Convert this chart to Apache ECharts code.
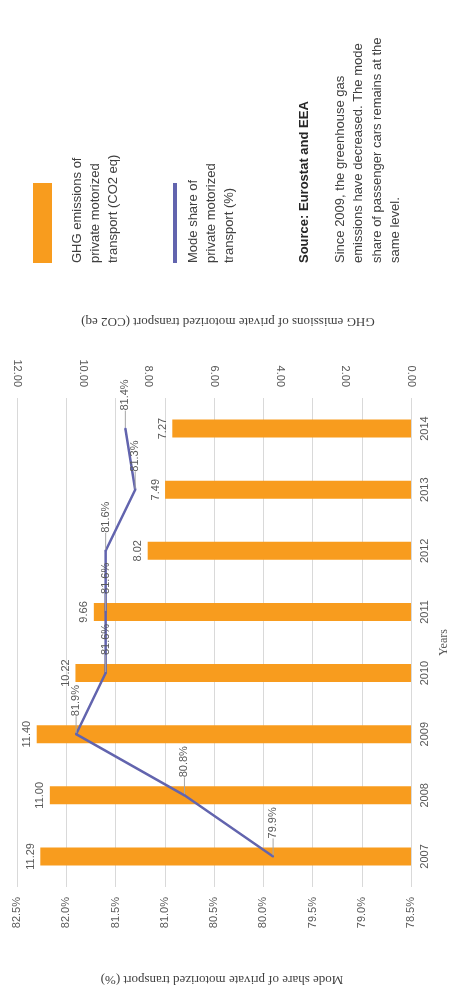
<!DOCTYPE html>
<html>
<head>
<meta charset="utf-8">
<script src="https://cdn.jsdelivr.net/npm/echarts@6/dist/echarts.min.js"></script>
<style>
html,body{margin:0;padding:0;background:#fff;overflow:hidden;width:449px;height:995px;}
#chart{width:449px;height:995px;display:block;}
</style>
</head>
<body>
<div id="chart"></div>
<script>
const years = ['2007','2008','2009','2010','2011','2012','2013','2014'];
const ghgEmissions = [11.29, 11.00, 11.40, 10.22, 9.66, 8.02, 7.49, 7.27];
const modeShare = [79.9, 80.8, 81.9, 81.6, 81.6, 81.6, 81.3, 81.4];
const shareTicks = {min: 78.5, max: 82.5, interval: 0.5};
const ghgTicks = {min: 0, max: 12, interval: 2};
const legendGhg = ['GHG emissions of', 'private motorized', 'transport (CO2 eq)'];
const legendShare = ['Mode share of', 'private motorized', 'transport (%)'];
const sourceText = 'Source: Eurostat and EEA';
const noteLines = ['Since 2009, the greenhouse gas', 'emissions have decreased. The mode', 'share of passenger cars remains at the', 'same level.'];

const ORANGE = '#F89C1E';
const BLUE = '#6264AE';
const TXT = '#595959';
const SANS = '"Liberation Sans", Arial, sans-serif';
const SERIF = '"Liberation Serif", "Times New Roman", serif';
const R = Math.PI / 2;

const chart = echarts.init(document.getElementById('chart'), null, {renderer: 'canvas', width: 449, height: 995});

function rotText(x, y, lines, opts) {
  return {
    type: 'text', x: x, y: y, rotation: R,
    style: Object.assign({
      text: lines.join('\n'), x: 0, y: 0,
      align: 'left', verticalAlign: 'top',
      fill: '#404040', fontSize: 13, fontFamily: SANS, lineHeight: 18
    }, opts || {})
  };
}

const option = {
  backgroundColor: '#fff',
  animation: false,
  grid: {left: 17, right: 38, top: 398, bottom: 108, containLabel: false, outerBoundsMode: 'none'},
  xAxis: [
    {
      type: 'value', position: 'bottom', inverse: true,
      min: shareTicks.min, max: shareTicks.max, interval: shareTicks.interval,
      name: 'Mode share of private motorized transport (%)',
      nameLocation: 'middle', nameGap: 86, nameRotate: 180,
      nameTextStyle: {fontFamily: SERIF, fontSize: 13, color: '#404040', padding: [0, 16, 0, 0]},
      axisLine: {show: false}, axisTick: {show: false},
      splitLine: {show: true, lineStyle: {color: '#D9D9D9', width: 1}},
      axisLabel: {rotate: 90, margin: 10, color: TXT, fontSize: 11, fontFamily: SANS,
        formatter: v => v.toFixed(1) + '%'}
    },
    {
      type: 'value', position: 'top', inverse: true,
      min: ghgTicks.min, max: ghgTicks.max, interval: ghgTicks.interval,
      name: 'GHG emissions of private motorized transport (CO2 eq)',
      nameLocation: 'middle', nameGap: 70, nameRotate: 180,
      nameTextStyle: {fontFamily: SERIF, fontSize: 13, color: '#404040', padding: [0, 28, 0, 0]},
      axisLine: {show: false}, axisTick: {show: false},
      splitLine: {show: false},
      axisLabel: {rotate: 90, margin: 11, color: TXT, fontSize: 11, fontFamily: SANS,
        formatter: v => v.toFixed(2)}
    }
  ],
  yAxis: {
    type: 'category', position: 'right', data: years,
    name: 'Years', nameLocation: 'middle', nameGap: 27, nameRotate: 90,
    nameTextStyle: {fontFamily: SERIF, fontSize: 12, color: TXT},
    axisLine: {show: false}, axisTick: {show: false},
    axisLabel: {rotate: 90, margin: 8, color: TXT, fontSize: 11, fontFamily: SANS}
  },
  series: [
    {
      type: 'bar', xAxisIndex: 1, yAxisIndex: 0, data: ghgEmissions,
      barWidth: 18, itemStyle: {color: ORANGE},
      label: {show: true, position: 'left', rotate: 90, align: 'center', verticalAlign: 'bottom',
        distance: 4, color: TXT, fontSize: 11, fontFamily: SANS,
        formatter: p => p.value.toFixed(2)}
    },
    {
      type: 'line', xAxisIndex: 0, yAxisIndex: 0, data: modeShare,
      symbol: 'circle', symbolSize: 2, itemStyle: {color: BLUE},
      lineStyle: {color: BLUE, width: 2.5},
      label: {show: true, position: 'top', rotate: 90, align: 'left', verticalAlign: 'middle',
        distance: 11, color: TXT, fontSize: 11, fontFamily: SANS,
        formatter: p => p.value.toFixed(1) + '%'},
      labelLayout: {dx: 6},
      labelLine: {show: true, lineStyle: {color: '#A6A6A6', width: 1}}
    }
  ],
  graphic: [
    {type: 'rect', shape: {x: 33, y: 183, width: 19, height: 80}, style: {fill: ORANGE}},
    rotText(68, 263, legendGhg),
    {type: 'rect', shape: {x: 173, y: 183, width: 4, height: 80}, style: {fill: BLUE}},
    rotText(184, 263, legendShare),
    rotText(295, 263, [sourceText], {fontWeight: 'bold', fill: '#262626'}),
    rotText(331, 263, noteLines, {lineHeight: 18.4})
  ]
};
chart.setOption(option);
</script>
</body>
</html>
